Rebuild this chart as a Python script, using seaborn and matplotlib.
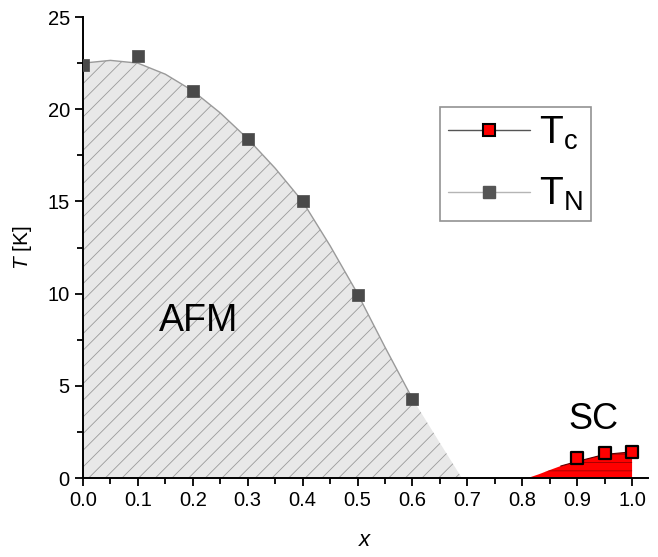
#Phase diagram T vs x (AFM / SC)

#import packages
import numpy as np
import matplotlib
matplotlib.use("Agg")
import matplotlib.pyplot as plt
from matplotlib.lines import Line2D
import seaborn as sns

#data
x_N = [0.0, 0.1, 0.2, 0.3, 0.4, 0.5, 0.6]
T_N = [22.4, 22.9, 21.0, 18.4, 15.0, 9.9, 4.3]
x_c = [0.9, 0.95, 1.0]
T_c = [1.08, 1.37, 1.43]

#boundary of AFM region (guide to the eye)
afm_x = [0.0, 0.05, 0.1, 0.15, 0.2, 0.25, 0.3, 0.35, 0.4, 0.45, 0.5, 0.55, 0.6, 0.65, 0.69]
afm_y = [22.5, 22.65, 22.5, 21.9, 21.0, 19.8, 18.4, 16.8, 15.0, 12.6, 10.0, 7.1, 4.3, 1.9, 0.0]
#boundary of SC region
sc_x = [0.81, 0.83, 0.85, 0.87, 0.9, 0.95, 1.0]
sc_y = [0.0, 0.2, 0.43, 0.65, 0.9, 1.28, 1.42]

sns.set_theme(style="ticks")
plt.rcParams["font.family"] = ["Liberation Sans", "DejaVu Sans"]
plt.rcParams["mathtext.fontset"] = "custom"
plt.rcParams["mathtext.rm"] = "Liberation Sans"
plt.rcParams["mathtext.it"] = "Liberation Sans:italic"
plt.rcParams["hatch.linewidth"] = 0.6
plt.rcParams["text.color"] = "black"
plt.rcParams["axes.labelcolor"] = "black"

fig = plt.figure(figsize=(6.58, 5.57), dpi=100)
ax = fig.add_axes([0.1261, 0.1418, 0.8587, 0.8276])

#AFM region
ax.fill_between(afm_x, afm_y, 0, facecolor="#e8e8e8", edgecolor="#9a9a9a",
                hatch="//", linewidth=0, zorder=1)
n_line = 13
sns.lineplot(x=afm_x[:n_line], y=afm_y[:n_line], color="#9a9a9a", lw=1.0,
             ax=ax, zorder=2, estimator=None, sort=False)

#SC region
ax.fill_between(sc_x, sc_y, 0, facecolor="#ff0000", edgecolor="#9a0000",
                hatch="--", linewidth=0, zorder=1)
sns.lineplot(x=sc_x[3:], y=sc_y[3:], color="#5a0000", lw=0.8, ax=ax,
             zorder=2, estimator=None, sort=False)

#points
sns.scatterplot(x=x_N, y=T_N, marker="s", s=70, color="#4a4a4a",
                edgecolor="#4a4a4a", linewidth=0.5, ax=ax, zorder=4)
sns.scatterplot(x=x_c, y=T_c, marker="s", s=75, color="#ff0000",
                edgecolor="black", linewidth=1.6, ax=ax, zorder=5)

#labels
ax.text(0.21, 8.5, "AFM", fontsize=27, ha="center", va="center")
ax.text(0.93, 3.15, "SC", fontsize=26, ha="center", va="center")

ax.set_xlim(0, 1.029)
ax.set_ylim(0, 25)
ax.set_xticks(np.arange(0, 1.01, 0.1))
ax.set_xticks(np.arange(0.05, 1.01, 0.1), minor=True)
ax.set_xticklabels([f"{v:.1f}" for v in np.arange(0, 1.01, 0.1)])
ax.set_yticks([0, 5, 10, 15, 20, 25])
ax.set_yticks(np.arange(2.5, 25, 5), minor=True)
ax.tick_params(axis="both", which="major", direction="out", length=6,
               width=1.3, labelsize=14.5, color="black", labelcolor="black")
ax.tick_params(axis="both", which="minor", direction="out", length=4,
               width=1.3, color="black")
for s in ["left", "bottom"]:
    ax.spines[s].set_linewidth(1.4)
    ax.spines[s].set_color("black")
sns.despine(ax=ax)

ax.set_xlabel("$x$", fontsize=16, labelpad=14)
ax.set_ylabel("$T$ [K]", fontsize=15, labelpad=10)

#legend
handles = [
    Line2D([], [], color="#555555", lw=1.0, marker="s", markersize=8,
           markerfacecolor="#ff0000", markeredgecolor="black", markeredgewidth=1.5),
    Line2D([], [], color="#b5b5b5", lw=1.0, marker="s", markersize=8,
           markerfacecolor="#555555", markeredgecolor="#555555"),
]
leg = ax.legend(handles, [r"$\mathrm{T_c}$", r"$\mathrm{T_N}$"],
                loc="upper left", bbox_to_anchor=(0.632, 0.805),
                fontsize=28, frameon=True, fancybox=False,
                handlelength=2.1, handletextpad=0.25, labelspacing=0.62,
                borderpad=0.2, borderaxespad=0)
leg.get_frame().set_edgecolor("#777777")
leg.get_frame().set_linewidth(1.2)

fig.savefig("out.png", dpi=100)
